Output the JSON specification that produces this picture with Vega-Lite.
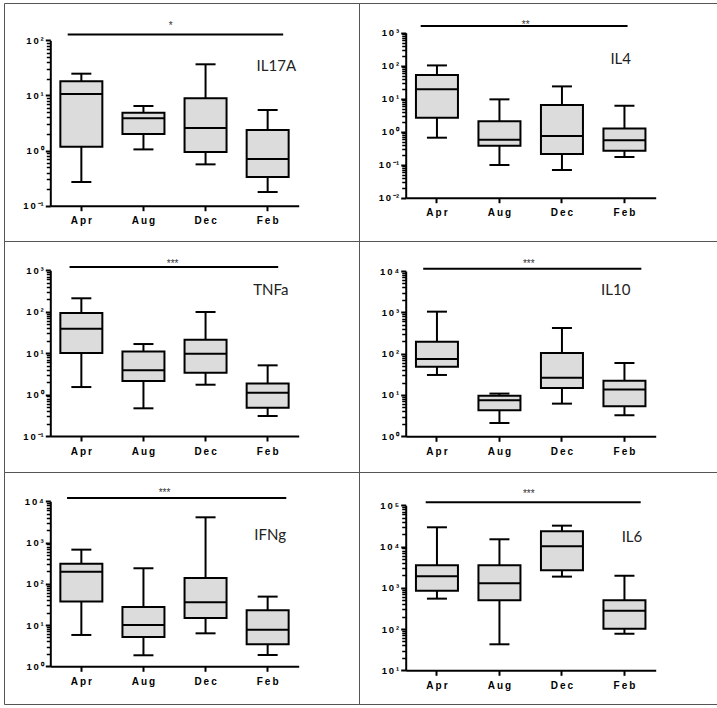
{
  "$schema": "https://vega.github.io/schema/vega-lite/v6.json",
  "padding": {"left": 3, "top": 2, "right": 0, "bottom": 0},
  "background": "white",
  "columns": 2,
  "spacing": 0,
  "bounds": "flush",
  "datasets": {
    "box": [
      {"panel": "IL17A", "month": "Apr", "min": 0.269, "q1": 1.17, "median": 10.6, "q3": 18.0, "max": 24.8},
      {"panel": "IL17A", "month": "Aug", "min": 1.05, "q1": 2.0, "median": 3.84, "q3": 4.87, "max": 6.43},
      {"panel": "IL17A", "month": "Dec", "min": 0.562, "q1": 0.94, "median": 2.56, "q3": 8.86, "max": 36.7},
      {"panel": "IL17A", "month": "Feb", "min": 0.177, "q1": 0.331, "median": 0.70, "q3": 2.36, "max": 5.44},
      {"panel": "IL4", "month": "Apr", "min": 0.658, "q1": 2.65, "median": 19.2, "q3": 52, "max": 102},
      {"panel": "IL4", "month": "Aug", "min": 0.098, "q1": 0.377, "median": 0.573, "q3": 2.06, "max": 9.55},
      {"panel": "IL4", "month": "Dec", "min": 0.069, "q1": 0.21, "median": 0.74, "q3": 6.43, "max": 23.6},
      {"panel": "IL4", "month": "Feb", "min": 0.171, "q1": 0.265, "median": 0.546, "q3": 1.26, "max": 6.14},
      {"panel": "TNFa", "month": "Apr", "min": 1.52, "q1": 10.1, "median": 39, "q3": 93.3, "max": 211},
      {"panel": "TNFa", "month": "Aug", "min": 0.466, "q1": 2.13, "median": 3.85, "q3": 10.9, "max": 16.6},
      {"panel": "TNFa", "month": "Dec", "min": 1.73, "q1": 3.38, "median": 9.72, "q3": 21.2, "max": 98.6},
      {"panel": "TNFa", "month": "Feb", "min": 0.304, "q1": 0.483, "median": 1.11, "q3": 1.84, "max": 5.08},
      {"panel": "IL10", "month": "Apr", "min": 30.5, "q1": 48.4, "median": 74.3, "q3": 195, "max": 1038},
      {"panel": "IL10", "month": "Aug", "min": 2.1, "q1": 4.26, "median": 7.43, "q3": 9.6, "max": 10.8},
      {"panel": "IL10", "month": "Dec", "min": 6.17, "q1": 14.8, "median": 26.2, "q3": 104, "max": 418},
      {"panel": "IL10", "month": "Feb", "min": 3.22, "q1": 5.32, "median": 13.5, "q3": 22.2, "max": 59.4},
      {"panel": "IFNg", "month": "Apr", "min": 5.75, "q1": 37, "median": 197, "q3": 308, "max": 673},
      {"panel": "IFNg", "month": "Aug", "min": 1.85, "q1": 5.14, "median": 10, "q3": 27.4, "max": 238},
      {"panel": "IFNg", "month": "Dec", "min": 6.3, "q1": 14.9, "median": 35.6, "q3": 138, "max": 4092},
      {"panel": "IFNg", "month": "Feb", "min": 1.88, "q1": 3.41, "median": 7.74, "q3": 22.8, "max": 48.9},
      {"panel": "IL6", "month": "Apr", "min": 546, "q1": 853, "median": 1900, "q3": 3510, "max": 29300},
      {"panel": "IL6", "month": "Aug", "min": 42.7, "q1": 498, "median": 1285, "q3": 3510, "max": 15000},
      {"panel": "IL6", "month": "Dec", "min": 1866, "q1": 2655, "median": 10100, "q3": 23400, "max": 32100},
      {"panel": "IL6", "month": "Feb", "min": 77.4, "q1": 102, "median": 279, "q3": 498, "max": 1972}
    ],
    "sig": [
      {"panel": "IL17A", "from": "Apr", "to": "Feb", "y": 128, "stars": "*"},
      {"panel": "IL4", "from": "Apr", "to": "Feb", "y": 1585, "stars": "**"},
      {"panel": "TNFa", "from": "Apr", "to": "Feb", "y": 1200, "stars": "***"},
      {"panel": "IL10", "from": "Apr", "to": "Feb", "y": 11380, "stars": "***"},
      {"panel": "IFNg", "from": "Apr", "to": "Feb", "y": 12020, "stars": "***"},
      {"panel": "IL6", "from": "Apr", "to": "Feb", "y": 118300, "stars": "***"}
    ],
    "labels": [
      {"panel": "IL17A", "month": "Feb", "y": 34.2, "label": "IL17A"},
      {"panel": "IL4", "month": "Feb", "y": 160, "label": "IL4"},
      {"panel": "TNFa", "month": "Feb", "y": 340, "label": "TNFa"},
      {"panel": "IL10", "month": "Feb", "y": 3524, "label": "IL10"},
      {"panel": "IFNg", "month": "Feb", "y": 1549, "label": "IFNg"},
      {"panel": "IL6", "month": "Feb", "y": 17060, "label": "IL6"}
    ]
  },
  "concat": [
    {
      "width": 355, "height": 238,
      "layer": [
        {"layer": [
          {"data": {"name": "box"}, "transform": [{"filter": "datum.panel === 'IL17A'"}],
           "layer": [
             {"mark": {"type": "rule", "strokeWidth": 2, "color": "black"},
              "encoding": {
                "x": {"field": "month", "type": "nominal", "scale": {"type": "band", "domain": ["Apr", "Aug", "Dec", "Feb"], "range": [46.3, 294.7], "paddingInner": 0, "paddingOuter": 0}, "axis": {"orient": "bottom", "offset": -35.3, "title": null}},
                "y": {"field": "min", "type": "quantitative", "scale": {"type": "log", "domain": [0.1, 100], "range": [202.7, 37.3], "nice": false}, "axis": {"orient": "left", "offset": -46.3, "values": [0.1, 1, 10, 100], "title": null}},
                "y2": {"field": "max"}}},
             {"mark": {"type": "bar", "fill": "#dcdcdc", "stroke": "black", "strokeWidth": 2, "size": 42},
              "encoding": {"x": {"field": "month", "type": "nominal"}, "y": {"field": "q1", "type": "quantitative"}, "y2": {"field": "q3"}}},
             {"mark": {"type": "tick", "color": "black", "opacity": 1, "size": 42, "thickness": 2},
              "encoding": {"x": {"field": "month", "type": "nominal"}, "y": {"field": "median", "type": "quantitative"}}},
             {"mark": {"type": "tick", "color": "black", "opacity": 1, "size": 20, "thickness": 2},
              "encoding": {"x": {"field": "month", "type": "nominal"}, "y": {"field": "min", "type": "quantitative"}}},
             {"mark": {"type": "tick", "color": "black", "opacity": 1, "size": 20, "thickness": 2},
              "encoding": {"x": {"field": "month", "type": "nominal"}, "y": {"field": "max", "type": "quantitative"}}}
           ]},
          {"data": {"name": "sig"}, "transform": [{"filter": "datum.panel === 'IL17A'"}],
           "layer": [
             {"mark": {"type": "rule", "strokeWidth": 2, "color": "black"},
              "encoding": {"x": {"field": "from", "type": "nominal", "bandPosition": 0.28}, "x2": {"field": "to", "bandPosition": 0.75}, "y": {"field": "y", "type": "quantitative"}}},
             {"mark": {"type": "text", "fontSize": 10, "dy": -5.6, "baseline": "alphabetic", "color": "#333"},
              "encoding": {"x": {"datum": "Aug", "type": "nominal", "bandPosition": 0.94}, "y": {"field": "y", "type": "quantitative"}, "text": {"field": "stars"}}}
           ]},
          {"data": {"name": "labels"}, "transform": [{"filter": "datum.panel === 'IL17A'"}],
           "mark": {"type": "text", "font": "Lato", "fontSize": 15, "color": "#222"},
           "encoding": {"x": {"field": "month", "type": "nominal", "bandPosition": 0.64}, "y": {"field": "y", "type": "quantitative"}, "text": {"field": "label"}}}
        ]},
        {"data": {"name": "box"}, "transform": [{"filter": "datum.panel === 'IL17A'"}],
         "mark": {"type": "rule", "opacity": 0},
         "encoding": {"y": {"field": "min", "type": "quantitative", "scale": {"type": "log", "domain": [0.1, 100], "range": [202.7, 37.3], "nice": false},
           "axis": {"orient": "left", "offset": -46.3, "labels": false, "domain": false, "tickSize": 4, "tickWidth": 1.5, "title": null,
             "values": [0.2, 0.3, 0.4, 0.5, 0.6, 0.7, 0.8, 0.9, 2, 3, 4, 5, 6, 7, 8, 9, 20, 30, 40, 50, 60, 70, 80, 90]}}}}
      ],
      "resolve": {"axis": {"y": "independent"}}
    },
    {
      "width": 358, "height": 238,
      "layer": [
        {"layer": [
          {"data": {"name": "box"}, "transform": [{"filter": "datum.panel === 'IL4'"}],
           "layer": [
             {"mark": {"type": "rule", "strokeWidth": 2, "color": "black"},
              "encoding": {
                "x": {"field": "month", "type": "nominal", "scale": {"type": "band", "domain": ["Apr", "Aug", "Dec", "Feb"], "range": [46.7, 296.7], "paddingInner": 0, "paddingOuter": 0}, "axis": {"orient": "bottom", "offset": -43.3, "title": null}},
                "y": {"field": "min", "type": "quantitative", "scale": {"type": "log", "domain": [0.01, 1000], "range": [194.7, 29.7], "nice": false}, "axis": {"orient": "left", "offset": -46.7, "values": [0.01, 0.1, 1, 10, 100, 1000], "title": null}},
                "y2": {"field": "max"}}},
             {"mark": {"type": "bar", "fill": "#dcdcdc", "stroke": "black", "strokeWidth": 2, "size": 42},
              "encoding": {"x": {"field": "month", "type": "nominal"}, "y": {"field": "q1", "type": "quantitative"}, "y2": {"field": "q3"}}},
             {"mark": {"type": "tick", "color": "black", "opacity": 1, "size": 42, "thickness": 2},
              "encoding": {"x": {"field": "month", "type": "nominal"}, "y": {"field": "median", "type": "quantitative"}}},
             {"mark": {"type": "tick", "color": "black", "opacity": 1, "size": 20, "thickness": 2},
              "encoding": {"x": {"field": "month", "type": "nominal"}, "y": {"field": "min", "type": "quantitative"}}},
             {"mark": {"type": "tick", "color": "black", "opacity": 1, "size": 20, "thickness": 2},
              "encoding": {"x": {"field": "month", "type": "nominal"}, "y": {"field": "max", "type": "quantitative"}}}
           ]},
          {"data": {"name": "sig"}, "transform": [{"filter": "datum.panel === 'IL4'"}],
           "layer": [
             {"mark": {"type": "rule", "strokeWidth": 2, "color": "black"},
              "encoding": {"x": {"field": "from", "type": "nominal", "bandPosition": 0.24}, "x2": {"field": "to", "bandPosition": 0.55}, "y": {"field": "y", "type": "quantitative"}}},
             {"mark": {"type": "text", "fontSize": 10, "dy": 2, "baseline": "alphabetic", "color": "#333"},
              "encoding": {"x": {"datum": "Aug", "type": "nominal", "bandPosition": 0.92}, "y": {"field": "y", "type": "quantitative"}, "text": {"field": "stars"}}}
           ]},
          {"data": {"name": "labels"}, "transform": [{"filter": "datum.panel === 'IL4'"}],
           "mark": {"type": "text", "font": "Lato", "fontSize": 15, "color": "#222"},
           "encoding": {"x": {"field": "month", "type": "nominal", "bandPosition": 0.44}, "y": {"field": "y", "type": "quantitative"}, "text": {"field": "label"}}}
        ]},
        {"data": {"name": "box"}, "transform": [{"filter": "datum.panel === 'IL4'"}],
         "mark": {"type": "rule", "opacity": 0},
         "encoding": {"y": {"field": "min", "type": "quantitative", "scale": {"type": "log", "domain": [0.01, 1000], "range": [194.7, 29.7], "nice": false},
           "axis": {"orient": "left", "offset": -46.7, "labels": false, "domain": false, "tickSize": 4, "tickWidth": 1.5, "title": null,
             "values": [0.02, 0.03, 0.04, 0.05, 0.06, 0.07, 0.08, 0.09, 0.2, 0.3, 0.4, 0.5, 0.6, 0.7, 0.8, 0.9, 2, 3, 4, 5, 6, 7, 8, 9, 20, 30, 40, 50, 60, 70, 80, 90, 200, 300, 400, 500, 600, 700, 800, 900]}}}}
      ],
      "resolve": {"axis": {"y": "independent"}}
    },
    {
      "width": 355, "height": 231,
      "layer": [
        {"layer": [
          {"data": {"name": "box"}, "transform": [{"filter": "datum.panel === 'TNFa'"}],
           "layer": [
             {"mark": {"type": "rule", "strokeWidth": 2, "color": "black"},
              "encoding": {
                "x": {"field": "month", "type": "nominal", "scale": {"type": "band", "domain": ["Apr", "Aug", "Dec", "Feb"], "range": [46.3, 294.7], "paddingInner": 0, "paddingOuter": 0}, "axis": {"orient": "bottom", "offset": -36, "title": null}},
                "y": {"field": "min", "type": "quantitative", "scale": {"type": "log", "domain": [0.1, 1000], "range": [195, 29.3], "nice": false}, "axis": {"orient": "left", "offset": -46.3, "values": [0.1, 1, 10, 100, 1000], "title": null}},
                "y2": {"field": "max"}}},
             {"mark": {"type": "bar", "fill": "#dcdcdc", "stroke": "black", "strokeWidth": 2, "size": 42},
              "encoding": {"x": {"field": "month", "type": "nominal"}, "y": {"field": "q1", "type": "quantitative"}, "y2": {"field": "q3"}}},
             {"mark": {"type": "tick", "color": "black", "opacity": 1, "size": 42, "thickness": 2},
              "encoding": {"x": {"field": "month", "type": "nominal"}, "y": {"field": "median", "type": "quantitative"}}},
             {"mark": {"type": "tick", "color": "black", "opacity": 1, "size": 20, "thickness": 2},
              "encoding": {"x": {"field": "month", "type": "nominal"}, "y": {"field": "min", "type": "quantitative"}}},
             {"mark": {"type": "tick", "color": "black", "opacity": 1, "size": 20, "thickness": 2},
              "encoding": {"x": {"field": "month", "type": "nominal"}, "y": {"field": "max", "type": "quantitative"}}}
           ]},
          {"data": {"name": "sig"}, "transform": [{"filter": "datum.panel === 'TNFa'"}],
           "layer": [
             {"mark": {"type": "rule", "strokeWidth": 2, "color": "black"},
              "encoding": {"x": {"field": "from", "type": "nominal", "bandPosition": 0.31}, "x2": {"field": "to", "bandPosition": 0.67}, "y": {"field": "y", "type": "quantitative"}}},
             {"mark": {"type": "text", "fontSize": 10, "dy": 0, "baseline": "alphabetic", "color": "#333"},
              "encoding": {"x": {"datum": "Aug", "type": "nominal", "bandPosition": 0.97}, "y": {"field": "y", "type": "quantitative"}, "text": {"field": "stars"}}}
           ]},
          {"data": {"name": "labels"}, "transform": [{"filter": "datum.panel === 'TNFa'"}],
           "mark": {"type": "text", "font": "Lato", "fontSize": 15, "color": "#222"},
           "encoding": {"x": {"field": "month", "type": "nominal", "bandPosition": 0.55}, "y": {"field": "y", "type": "quantitative"}, "text": {"field": "label"}}}
        ]},
        {"data": {"name": "box"}, "transform": [{"filter": "datum.panel === 'TNFa'"}],
         "mark": {"type": "rule", "opacity": 0},
         "encoding": {"y": {"field": "min", "type": "quantitative", "scale": {"type": "log", "domain": [0.1, 1000], "range": [195, 29.3], "nice": false},
           "axis": {"orient": "left", "offset": -46.3, "labels": false, "domain": false, "tickSize": 4, "tickWidth": 1.5, "title": null,
             "values": [0.2, 0.3, 0.4, 0.5, 0.6, 0.7, 0.8, 0.9, 2, 3, 4, 5, 6, 7, 8, 9, 20, 30, 40, 50, 60, 70, 80, 90, 200, 300, 400, 500, 600, 700, 800, 900]}}}}
      ],
      "resolve": {"axis": {"y": "independent"}}
    },
    {
      "width": 358, "height": 231,
      "layer": [
        {"layer": [
          {"data": {"name": "box"}, "transform": [{"filter": "datum.panel === 'IL10'"}],
           "layer": [
             {"mark": {"type": "rule", "strokeWidth": 2, "color": "black"},
              "encoding": {
                "x": {"field": "month", "type": "nominal", "scale": {"type": "band", "domain": ["Apr", "Aug", "Dec", "Feb"], "range": [46.7, 296.7], "paddingInner": 0, "paddingOuter": 0}, "axis": {"orient": "bottom", "offset": -35.7, "title": null}},
                "y": {"field": "min", "type": "quantitative", "scale": {"type": "log", "domain": [1, 10000], "range": [195.3, 30], "nice": false}, "axis": {"orient": "left", "offset": -46.7, "values": [1, 10, 100, 1000, 10000], "title": null}},
                "y2": {"field": "max"}}},
             {"mark": {"type": "bar", "fill": "#dcdcdc", "stroke": "black", "strokeWidth": 2, "size": 42},
              "encoding": {"x": {"field": "month", "type": "nominal"}, "y": {"field": "q1", "type": "quantitative"}, "y2": {"field": "q3"}}},
             {"mark": {"type": "tick", "color": "black", "opacity": 1, "size": 42, "thickness": 2},
              "encoding": {"x": {"field": "month", "type": "nominal"}, "y": {"field": "median", "type": "quantitative"}}},
             {"mark": {"type": "tick", "color": "black", "opacity": 1, "size": 20, "thickness": 2},
              "encoding": {"x": {"field": "month", "type": "nominal"}, "y": {"field": "min", "type": "quantitative"}}},
             {"mark": {"type": "tick", "color": "black", "opacity": 1, "size": 20, "thickness": 2},
              "encoding": {"x": {"field": "month", "type": "nominal"}, "y": {"field": "max", "type": "quantitative"}}}
           ]},
          {"data": {"name": "sig"}, "transform": [{"filter": "datum.panel === 'IL10'"}],
           "layer": [
             {"mark": {"type": "rule", "strokeWidth": 2, "color": "black"},
              "encoding": {"x": {"field": "from", "type": "nominal", "bandPosition": 0.28}, "x2": {"field": "to", "bandPosition": 0.77}, "y": {"field": "y", "type": "quantitative"}}},
             {"mark": {"type": "text", "fontSize": 10, "dy": -1.7, "baseline": "alphabetic", "color": "#333"},
              "encoding": {"x": {"datum": "Aug", "type": "nominal", "bandPosition": 0.97}, "y": {"field": "y", "type": "quantitative"}, "text": {"field": "stars"}}}
           ]},
          {"data": {"name": "labels"}, "transform": [{"filter": "datum.panel === 'IL10'"}],
           "mark": {"type": "text", "font": "Lato", "fontSize": 15, "color": "#222"},
           "encoding": {"x": {"field": "month", "type": "nominal", "bandPosition": 0.36}, "y": {"field": "y", "type": "quantitative"}, "text": {"field": "label"}}}
        ]},
        {"data": {"name": "box"}, "transform": [{"filter": "datum.panel === 'IL10'"}],
         "mark": {"type": "rule", "opacity": 0},
         "encoding": {"y": {"field": "min", "type": "quantitative", "scale": {"type": "log", "domain": [1, 10000], "range": [195.3, 30], "nice": false},
           "axis": {"orient": "left", "offset": -46.7, "labels": false, "domain": false, "tickSize": 4, "tickWidth": 1.5, "title": null,
             "values": [2, 3, 4, 5, 6, 7, 8, 9, 20, 30, 40, 50, 60, 70, 80, 90, 200, 300, 400, 500, 600, 700, 800, 900, 2000, 3000, 4000, 5000, 6000, 7000, 8000, 9000]}}}}
      ],
      "resolve": {"axis": {"y": "independent"}}
    },
    {
      "width": 355, "height": 232,
      "layer": [
        {"layer": [
          {"data": {"name": "box"}, "transform": [{"filter": "datum.panel === 'IFNg'"}],
           "layer": [
             {"mark": {"type": "rule", "strokeWidth": 2, "color": "black"},
              "encoding": {
                "x": {"field": "month", "type": "nominal", "scale": {"type": "band", "domain": ["Apr", "Aug", "Dec", "Feb"], "range": [46.3, 294.7], "paddingInner": 0, "paddingOuter": 0}, "axis": {"orient": "bottom", "offset": -37.7, "title": null}},
                "y": {"field": "min", "type": "quantitative", "scale": {"type": "log", "domain": [1, 10000], "range": [194.3, 29.3], "nice": false}, "axis": {"orient": "left", "offset": -46.3, "values": [1, 10, 100, 1000, 10000], "title": null}},
                "y2": {"field": "max"}}},
             {"mark": {"type": "bar", "fill": "#dcdcdc", "stroke": "black", "strokeWidth": 2, "size": 42},
              "encoding": {"x": {"field": "month", "type": "nominal"}, "y": {"field": "q1", "type": "quantitative"}, "y2": {"field": "q3"}}},
             {"mark": {"type": "tick", "color": "black", "opacity": 1, "size": 42, "thickness": 2},
              "encoding": {"x": {"field": "month", "type": "nominal"}, "y": {"field": "median", "type": "quantitative"}}},
             {"mark": {"type": "tick", "color": "black", "opacity": 1, "size": 20, "thickness": 2},
              "encoding": {"x": {"field": "month", "type": "nominal"}, "y": {"field": "min", "type": "quantitative"}}},
             {"mark": {"type": "tick", "color": "black", "opacity": 1, "size": 20, "thickness": 2},
              "encoding": {"x": {"field": "month", "type": "nominal"}, "y": {"field": "max", "type": "quantitative"}}}
           ]},
          {"data": {"name": "sig"}, "transform": [{"filter": "datum.panel === 'IFNg'"}],
           "layer": [
             {"mark": {"type": "rule", "strokeWidth": 2, "color": "black"},
              "encoding": {"x": {"field": "from", "type": "nominal", "bandPosition": 0.27}, "x2": {"field": "to", "bandPosition": 0.8}, "y": {"field": "y", "type": "quantitative"}}},
             {"mark": {"type": "text", "fontSize": 10, "dy": -1.7, "baseline": "alphabetic", "color": "#333"},
              "encoding": {"x": {"datum": "Aug", "type": "nominal", "bandPosition": 0.84}, "y": {"field": "y", "type": "quantitative"}, "text": {"field": "stars"}}}
           ]},
          {"data": {"name": "labels"}, "transform": [{"filter": "datum.panel === 'IFNg'"}],
           "mark": {"type": "text", "font": "Lato", "fontSize": 15, "color": "#222"},
           "encoding": {"x": {"field": "month", "type": "nominal", "bandPosition": 0.54}, "y": {"field": "y", "type": "quantitative"}, "text": {"field": "label"}}}
        ]},
        {"data": {"name": "box"}, "transform": [{"filter": "datum.panel === 'IFNg'"}],
         "mark": {"type": "rule", "opacity": 0},
         "encoding": {"y": {"field": "min", "type": "quantitative", "scale": {"type": "log", "domain": [1, 10000], "range": [194.3, 29.3], "nice": false},
           "axis": {"orient": "left", "offset": -46.3, "labels": false, "domain": false, "tickSize": 4, "tickWidth": 1.5, "title": null,
             "values": [2, 3, 4, 5, 6, 7, 8, 9, 20, 30, 40, 50, 60, 70, 80, 90, 200, 300, 400, 500, 600, 700, 800, 900, 2000, 3000, 4000, 5000, 6000, 7000, 8000, 9000]}}}}
      ],
      "resolve": {"axis": {"y": "independent"}}
    },
    {
      "width": 358, "height": 232,
      "layer": [
        {"layer": [
          {"data": {"name": "box"}, "transform": [{"filter": "datum.panel === 'IL6'"}],
           "layer": [
             {"mark": {"type": "rule", "strokeWidth": 2, "color": "black"},
              "encoding": {
                "x": {"field": "month", "type": "nominal", "scale": {"type": "band", "domain": ["Apr", "Aug", "Dec", "Feb"], "range": [46.7, 296.7], "paddingInner": 0, "paddingOuter": 0}, "axis": {"orient": "bottom", "offset": -33.7, "title": null}},
                "y": {"field": "min", "type": "quantitative", "scale": {"type": "log", "domain": [10, 100000], "range": [198.3, 33.3], "nice": false}, "axis": {"orient": "left", "offset": -46.7, "values": [10, 100, 1000, 10000, 100000], "title": null}},
                "y2": {"field": "max"}}},
             {"mark": {"type": "bar", "fill": "#dcdcdc", "stroke": "black", "strokeWidth": 2, "size": 42},
              "encoding": {"x": {"field": "month", "type": "nominal"}, "y": {"field": "q1", "type": "quantitative"}, "y2": {"field": "q3"}}},
             {"mark": {"type": "tick", "color": "black", "opacity": 1, "size": 42, "thickness": 2},
              "encoding": {"x": {"field": "month", "type": "nominal"}, "y": {"field": "median", "type": "quantitative"}}},
             {"mark": {"type": "tick", "color": "black", "opacity": 1, "size": 20, "thickness": 2},
              "encoding": {"x": {"field": "month", "type": "nominal"}, "y": {"field": "min", "type": "quantitative"}}},
             {"mark": {"type": "tick", "color": "black", "opacity": 1, "size": 20, "thickness": 2},
              "encoding": {"x": {"field": "month", "type": "nominal"}, "y": {"field": "max", "type": "quantitative"}}}
           ]},
          {"data": {"name": "sig"}, "transform": [{"filter": "datum.panel === 'IL6'"}],
           "layer": [
             {"mark": {"type": "rule", "strokeWidth": 2, "color": "black"},
              "encoding": {"x": {"field": "from", "type": "nominal", "bandPosition": 0.32}, "x2": {"field": "to", "bandPosition": 0.76}, "y": {"field": "y", "type": "quantitative"}}},
             {"mark": {"type": "text", "fontSize": 10, "dy": -5, "baseline": "alphabetic", "color": "#333"},
              "encoding": {"x": {"datum": "Aug", "type": "nominal", "bandPosition": 0.97}, "y": {"field": "y", "type": "quantitative"}, "text": {"field": "stars"}}}
           ]},
          {"data": {"name": "labels"}, "transform": [{"filter": "datum.panel === 'IL6'"}],
           "mark": {"type": "text", "font": "Lato", "fontSize": 15, "color": "#222"},
           "encoding": {"x": {"field": "month", "type": "nominal", "bandPosition": 0.62}, "y": {"field": "y", "type": "quantitative"}, "text": {"field": "label"}}}
        ]},
        {"data": {"name": "box"}, "transform": [{"filter": "datum.panel === 'IL6'"}],
         "mark": {"type": "rule", "opacity": 0},
         "encoding": {"y": {"field": "min", "type": "quantitative", "scale": {"type": "log", "domain": [10, 100000], "range": [198.3, 33.3], "nice": false},
           "axis": {"orient": "left", "offset": -46.7, "labels": false, "domain": false, "tickSize": 4, "tickWidth": 1.5, "title": null,
             "values": [20, 30, 40, 50, 60, 70, 80, 90, 200, 300, 400, 500, 600, 700, 800, 900, 2000, 3000, 4000, 5000, 6000, 7000, 8000, 9000, 20000, 30000, 40000, 50000, 60000, 70000, 80000, 90000]}}}}
      ],
      "resolve": {"axis": {"y": "independent"}}
    }
  ],
  "config": {
    "view": {"stroke": "#555", "strokeWidth": 1},
    "axis": {
      "grid": false,
      "domainColor": "black",
      "domainWidth": 2,
      "tickColor": "black",
      "tickWidth": 2,
      "tickSize": 5,
      "labelColor": "black",
      "labelFont": "Liberation Sans",
      "labelFontWeight": "bold"
    },
    "axisX": {
      "labelFontSize": 10,
      "labelPadding": 5,
      "labelAngle": 0,
      "labelExpr": "join(split(datum.label, ''), '\u2009')"
    },
    "axisY": {
      "labelFontSize": 9.5,
      "labelPadding": 2,
      "labelExpr": "'1\u20090\u2009' + ['⁻²', '⁻¹', '⁰', '¹', '²', '³', '⁴', '⁵'][round(log(datum.value) / LN10) + 2]"
    }
  }
}
